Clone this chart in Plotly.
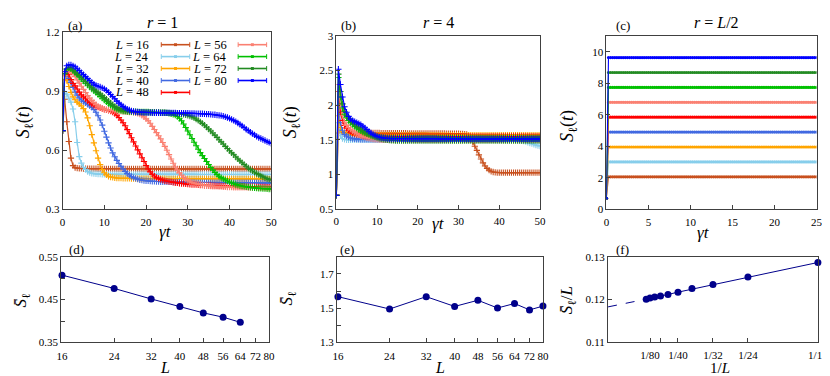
import plotly.graph_objects as go
import math

W, H = 830, 376
def px(x): return x / W
def py(y): return 1 - y / H

SERIF = "Liberation Serif"

L_VALUES = [16, 24, 32, 40, 48, 56, 64, 72, 80]
COLORS = {16: "#c8501e", 24: "#87ceeb", 32: "#ffa500", 40: "#4169e1", 48: "#ff0000",
          56: "#fa8072", 64: "#00c000", 72: "#228b22", 80: "#0000ff"}
NAVY = "#00008b"

# ---------------- time grids ----------------
T_AB = [0.0, 0.5, 1.0, 1.5, 2.0, 2.5, 3.0, 3.5, 4.0, 4.5,
        5.0, 5.5, 6.0, 6.5, 7.0, 7.5, 8.0, 8.5, 9.0, 9.5,
        10.0, 10.5, 11.0, 11.5, 12.0, 12.5, 13.0, 13.5, 14.0, 14.5,
        15.0, 15.5, 16.0, 16.5, 17.0, 17.5, 18.0, 18.5, 19.0, 19.5,
        20.0, 20.5, 21.0, 21.5, 22.0, 22.5, 23.0, 23.5, 24.0, 24.5,
        25.0, 25.5, 26.0, 26.5, 27.0, 27.5, 28.0, 28.5, 29.0, 29.5,
        30.0, 30.5, 31.0, 31.5, 32.0, 32.5, 33.0, 33.5, 34.0, 34.5,
        35.0, 35.5, 36.0, 36.5, 37.0, 37.5, 38.0, 38.5, 39.0, 39.5,
        40.0, 40.5, 41.0, 41.5, 42.0, 42.5, 43.0, 43.5, 44.0, 44.5,
        45.0, 45.5, 46.0, 46.5, 47.0, 47.5, 48.0, 48.5, 49.0, 49.5,
        50.0]

T_C = [0.0, 0.25, 0.5, 0.75, 1.0, 1.25, 1.5, 1.75, 2.0, 2.25,
       2.5, 2.75, 3.0, 3.25, 3.5, 3.75, 4.0, 4.25, 4.5, 4.75,
       5.0, 5.25, 5.5, 5.75, 6.0, 6.25, 6.5, 6.75, 7.0, 7.25,
       7.5, 7.75, 8.0, 8.25, 8.5, 8.75, 9.0, 9.25, 9.5, 9.75,
       10.0, 10.25, 10.5, 10.75, 11.0, 11.25, 11.5, 11.75, 12.0, 12.25,
       12.5, 12.75, 13.0, 13.25, 13.5, 13.75, 14.0, 14.25, 14.5, 14.75,
       15.0, 15.25, 15.5, 15.75, 16.0, 16.25, 16.5, 16.75, 17.0, 17.25,
       17.5, 17.75, 18.0, 18.25, 18.5, 18.75, 19.0, 19.25, 19.5, 19.75,
       20.0, 20.25, 20.5, 20.75, 21.0, 21.25, 21.5, 21.75, 22.0, 22.25,
       22.5, 22.75, 23.0, 23.25, 23.5, 23.75, 24.0, 24.25, 24.5, 24.75,
       25.0]

# ---------------- panel (a): r = 1 ----------------
A16 = [0.700, 0.860, 0.745, 0.645, 0.560, 0.522, 0.512, 0.509, 0.508, 0.508,
       0.507, 0.507, 0.507, 0.507, 0.507, 0.507, 0.507, 0.506, 0.506, 0.506,
       0.506, 0.506, 0.506, 0.506, 0.506, 0.506, 0.506, 0.506, 0.506, 0.506,
       0.506, 0.506, 0.506, 0.506, 0.506, 0.506, 0.506, 0.506, 0.506, 0.506,
       0.506, 0.506, 0.506, 0.506, 0.506, 0.505, 0.505, 0.505, 0.505, 0.505,
       0.505, 0.505, 0.505, 0.505, 0.505, 0.505, 0.505, 0.505, 0.505, 0.505,
       0.505, 0.505, 0.505, 0.505, 0.505, 0.505, 0.505, 0.505, 0.505, 0.505,
       0.505, 0.505, 0.505, 0.505, 0.505, 0.505, 0.505, 0.505, 0.505, 0.505,
       0.505, 0.505, 0.505, 0.505, 0.505, 0.505, 0.505, 0.505, 0.505, 0.505,
       0.505, 0.505, 0.505, 0.505, 0.505, 0.505, 0.505, 0.505, 0.505, 0.505,
       0.505]
A24 = [0.700, 0.890, 0.885, 0.865, 0.845, 0.810, 0.745, 0.640, 0.568, 0.535,
       0.514, 0.502, 0.492, 0.486, 0.483, 0.481, 0.480, 0.479, 0.479, 0.478,
       0.478, 0.478, 0.478, 0.478, 0.478, 0.478, 0.478, 0.478, 0.478, 0.478,
       0.478, 0.478, 0.478, 0.478, 0.478, 0.478, 0.478, 0.478, 0.478, 0.478,
       0.478, 0.478, 0.478, 0.478, 0.478, 0.478, 0.478, 0.478, 0.478, 0.478,
       0.478, 0.478, 0.478, 0.478, 0.478, 0.478, 0.478, 0.478, 0.478, 0.478,
       0.478, 0.478, 0.478, 0.478, 0.478, 0.477, 0.477, 0.477, 0.477, 0.477,
       0.477, 0.477, 0.477, 0.477, 0.477, 0.477, 0.477, 0.477, 0.477, 0.477,
       0.477, 0.477, 0.477, 0.477, 0.477, 0.477, 0.477, 0.477, 0.477, 0.477,
       0.477, 0.477, 0.477, 0.477, 0.477, 0.477, 0.477, 0.477, 0.477, 0.477,
       0.477]
A32 = [0.700, 0.960, 0.955, 0.925, 0.895, 0.872, 0.857, 0.845, 0.836, 0.826,
       0.812, 0.795, 0.765, 0.725, 0.680, 0.638, 0.598, 0.560, 0.527, 0.502,
       0.486, 0.475, 0.468, 0.464, 0.462, 0.460, 0.459, 0.458, 0.458, 0.457,
       0.457, 0.457, 0.457, 0.456, 0.456, 0.456, 0.456, 0.456, 0.456, 0.456,
       0.456, 0.456, 0.456, 0.456, 0.456, 0.456, 0.456, 0.456, 0.456, 0.456,
       0.455, 0.455, 0.455, 0.455, 0.455, 0.455, 0.455, 0.455, 0.455, 0.455,
       0.455, 0.455, 0.455, 0.455, 0.455, 0.455, 0.455, 0.455, 0.455, 0.455,
       0.455, 0.455, 0.455, 0.455, 0.455, 0.455, 0.455, 0.455, 0.455, 0.455,
       0.455, 0.455, 0.455, 0.455, 0.455, 0.454, 0.454, 0.454, 0.454, 0.454,
       0.454, 0.454, 0.454, 0.454, 0.454, 0.454, 0.454, 0.454, 0.454, 0.454,
       0.454]
A40 = [0.700, 0.990, 0.985, 0.965, 0.945, 0.920, 0.897, 0.880, 0.866, 0.856,
       0.848, 0.841, 0.834, 0.826, 0.818, 0.808, 0.794, 0.776, 0.754, 0.728,
       0.697, 0.667, 0.638, 0.612, 0.587, 0.567, 0.549, 0.533, 0.519, 0.505,
       0.492, 0.482, 0.474, 0.467, 0.461, 0.457, 0.453, 0.450, 0.448, 0.446,
       0.445, 0.444, 0.443, 0.442, 0.442, 0.441, 0.441, 0.440, 0.440, 0.440,
       0.439, 0.439, 0.439, 0.438, 0.438, 0.438, 0.438, 0.438, 0.437, 0.437,
       0.437, 0.437, 0.437, 0.437, 0.436, 0.436, 0.436, 0.436, 0.436, 0.436,
       0.436, 0.436, 0.436, 0.435, 0.435, 0.435, 0.435, 0.435, 0.435, 0.435,
       0.435, 0.435, 0.435, 0.435, 0.435, 0.435, 0.435, 0.435, 0.435, 0.435,
       0.435, 0.435, 0.435, 0.435, 0.434, 0.434, 0.434, 0.434, 0.434, 0.434,
       0.434]
A48 = [0.700, 0.980, 1.000, 0.985, 0.960, 0.940, 0.928, 0.912, 0.896, 0.882,
       0.872, 0.862, 0.852, 0.843, 0.835, 0.829, 0.824, 0.820, 0.816, 0.812,
       0.809, 0.806, 0.803, 0.799, 0.794, 0.787, 0.778, 0.767, 0.754, 0.740,
       0.725, 0.705, 0.685, 0.664, 0.643, 0.622, 0.602, 0.582, 0.562, 0.543,
       0.523, 0.505, 0.490, 0.478, 0.469, 0.462, 0.457, 0.452, 0.448, 0.445,
       0.443, 0.441, 0.439, 0.437, 0.435, 0.434, 0.432, 0.431, 0.430, 0.429,
       0.428, 0.427, 0.426, 0.426, 0.425, 0.424, 0.423, 0.423, 0.422, 0.422,
       0.421, 0.421, 0.420, 0.420, 0.419, 0.419, 0.419, 0.418, 0.418, 0.418,
       0.418, 0.417, 0.417, 0.417, 0.416, 0.416, 0.416, 0.416, 0.415, 0.415,
       0.415, 0.415, 0.415, 0.414, 0.414, 0.414, 0.414, 0.414, 0.413, 0.413,
       0.413]
A56 = [0.700, 0.980, 1.005, 1.010, 1.000, 0.990, 0.975, 0.958, 0.942, 0.926,
       0.910, 0.894, 0.879, 0.866, 0.854, 0.843, 0.833, 0.825, 0.819, 0.814,
       0.810, 0.807, 0.805, 0.803, 0.802, 0.801, 0.800, 0.799, 0.798, 0.797,
       0.797, 0.796, 0.795, 0.794, 0.793, 0.791, 0.788, 0.784, 0.778, 0.770,
       0.760, 0.750, 0.738, 0.722, 0.706, 0.690, 0.674, 0.658, 0.640, 0.620,
       0.600, 0.578, 0.556, 0.534, 0.515, 0.499, 0.485, 0.473, 0.462, 0.453,
       0.446, 0.440, 0.436, 0.433, 0.430, 0.428, 0.426, 0.424, 0.422, 0.420,
       0.419, 0.418, 0.417, 0.416, 0.416, 0.415, 0.415, 0.414, 0.414, 0.413,
       0.413, 0.413, 0.412, 0.412, 0.412, 0.411, 0.411, 0.411, 0.411, 0.410,
       0.410, 0.410, 0.410, 0.409, 0.409, 0.409, 0.409, 0.408, 0.408, 0.408,
       0.408]
A64 = [0.700, 0.990, 1.012, 1.018, 1.015, 1.005, 0.995, 0.985, 0.974, 0.963,
       0.952, 0.942, 0.932, 0.922, 0.912, 0.903, 0.893, 0.884, 0.874, 0.865,
       0.856, 0.847, 0.838, 0.830, 0.822, 0.815, 0.809, 0.805, 0.802, 0.800,
       0.799, 0.798, 0.798, 0.797, 0.797, 0.797, 0.796, 0.796, 0.796, 0.795,
       0.795, 0.795, 0.794, 0.794, 0.794, 0.793, 0.793, 0.792, 0.792, 0.791,
       0.790, 0.788, 0.786, 0.783, 0.779, 0.772, 0.763, 0.750, 0.734, 0.716,
       0.698, 0.679, 0.660, 0.641, 0.623, 0.605, 0.588, 0.573, 0.558, 0.543,
       0.528, 0.513, 0.499, 0.487, 0.477, 0.468, 0.461, 0.455, 0.449, 0.444,
       0.439, 0.434, 0.430, 0.426, 0.423, 0.420, 0.418, 0.416, 0.414, 0.413,
       0.411, 0.410, 0.409, 0.408, 0.407, 0.406, 0.405, 0.405, 0.404, 0.403,
       0.403]
A72 = [0.700, 0.990, 1.015, 1.020, 1.018, 1.010, 1.000, 0.990, 0.981, 0.971,
       0.960, 0.950, 0.940, 0.929, 0.918, 0.910, 0.902, 0.895, 0.887, 0.878,
       0.869, 0.860, 0.850, 0.841, 0.832, 0.824, 0.817, 0.812, 0.807, 0.803,
       0.800, 0.798, 0.797, 0.796, 0.795, 0.795, 0.794, 0.794, 0.794, 0.793,
       0.793, 0.793, 0.793, 0.792, 0.792, 0.792, 0.792, 0.791, 0.791, 0.791,
       0.790, 0.790, 0.789, 0.789, 0.788, 0.787, 0.786, 0.785, 0.783, 0.781,
       0.778, 0.774, 0.770, 0.765, 0.759, 0.752, 0.745, 0.737, 0.728, 0.718,
       0.708, 0.698, 0.688, 0.677, 0.666, 0.654, 0.643, 0.632, 0.620, 0.609,
       0.598, 0.587, 0.577, 0.566, 0.556, 0.546, 0.537, 0.528, 0.519, 0.510,
       0.502, 0.495, 0.488, 0.482, 0.476, 0.470, 0.465, 0.460, 0.456, 0.452,
       0.449]
A80 = [0.700, 1.000, 1.030, 1.035, 1.035, 1.030, 1.025, 1.015, 1.006, 0.995,
       0.985, 0.975, 0.965, 0.955, 0.945, 0.937, 0.930, 0.926, 0.922, 0.918,
       0.913, 0.905, 0.895, 0.884, 0.873, 0.862, 0.850, 0.840, 0.831, 0.823,
       0.816, 0.810, 0.805, 0.801, 0.798, 0.796, 0.795, 0.794, 0.793, 0.793,
       0.792, 0.792, 0.792, 0.791, 0.791, 0.791, 0.791, 0.790, 0.790, 0.790,
       0.790, 0.790, 0.790, 0.790, 0.790, 0.789, 0.789, 0.789, 0.789, 0.789,
       0.789, 0.788, 0.788, 0.788, 0.787, 0.787, 0.786, 0.786, 0.785, 0.784,
       0.784, 0.783, 0.782, 0.781, 0.779, 0.778, 0.776, 0.774, 0.770, 0.767,
       0.762, 0.757, 0.752, 0.746, 0.739, 0.732, 0.724, 0.716, 0.707, 0.700,
       0.692, 0.685, 0.678, 0.671, 0.665, 0.660, 0.655, 0.650, 0.644, 0.640,
       0.635]

# ---------------- panel (b): r = 4 ----------------
B16 = [0.700, 1.600, 1.620, 1.610, 1.605, 1.602, 1.600, 1.600, 1.600, 1.600,
       1.600, 1.600, 1.600, 1.600, 1.600, 1.600, 1.600, 1.600, 1.600, 1.600,
       1.600, 1.600, 1.599, 1.599, 1.599, 1.599, 1.598, 1.598, 1.598, 1.598,
       1.597, 1.597, 1.597, 1.597, 1.597, 1.596, 1.596, 1.596, 1.596, 1.596,
       1.595, 1.595, 1.595, 1.595, 1.595, 1.594, 1.594, 1.594, 1.594, 1.594,
       1.593, 1.593, 1.593, 1.593, 1.592, 1.592, 1.592, 1.591, 1.591, 1.591,
       1.590, 1.589, 1.587, 1.584, 1.580, 1.560, 1.520, 1.470, 1.410, 1.350,
       1.285, 1.225, 1.170, 1.125, 1.090, 1.065, 1.048, 1.038, 1.033, 1.030,
       1.029, 1.029, 1.029, 1.029, 1.029, 1.029, 1.029, 1.029, 1.029, 1.029,
       1.029, 1.029, 1.029, 1.028, 1.028, 1.028, 1.028, 1.028, 1.028, 1.028,
       1.028]
B24 = [0.700, 1.750, 1.560, 1.520, 1.507, 1.502, 1.500, 1.500, 1.500, 1.500,
       1.500, 1.500, 1.500, 1.500, 1.500, 1.500, 1.500, 1.500, 1.500, 1.500,
       1.500, 1.500, 1.500, 1.500, 1.500, 1.500, 1.500, 1.500, 1.500, 1.500,
       1.500, 1.500, 1.500, 1.500, 1.500, 1.500, 1.500, 1.500, 1.500, 1.500,
       1.500, 1.500, 1.500, 1.500, 1.500, 1.500, 1.500, 1.500, 1.500, 1.500,
       1.500, 1.500, 1.500, 1.500, 1.500, 1.500, 1.500, 1.500, 1.500, 1.500,
       1.500, 1.500, 1.500, 1.500, 1.500, 1.500, 1.500, 1.500, 1.500, 1.500,
       1.500, 1.500, 1.500, 1.500, 1.500, 1.500, 1.500, 1.500, 1.500, 1.500,
       1.500, 1.500, 1.500, 1.500, 1.500, 1.500, 1.500, 1.500, 1.500, 1.497,
       1.493, 1.488, 1.482, 1.475, 1.466, 1.456, 1.446, 1.435, 1.425, 1.418,
       1.412]
B32 = [0.700, 1.850, 1.680, 1.620, 1.595, 1.583, 1.577, 1.573, 1.571, 1.570,
       1.570, 1.570, 1.570, 1.570, 1.570, 1.570, 1.570, 1.570, 1.570, 1.570,
       1.570, 1.570, 1.570, 1.570, 1.570, 1.570, 1.570, 1.570, 1.570, 1.570,
       1.570, 1.570, 1.570, 1.570, 1.570, 1.570, 1.570, 1.570, 1.570, 1.570,
       1.570, 1.570, 1.570, 1.570, 1.570, 1.570, 1.570, 1.570, 1.570, 1.570,
       1.570, 1.570, 1.570, 1.570, 1.570, 1.570, 1.570, 1.570, 1.570, 1.570,
       1.570, 1.570, 1.570, 1.570, 1.570, 1.570, 1.570, 1.570, 1.570, 1.570,
       1.570, 1.570, 1.570, 1.570, 1.570, 1.570, 1.570, 1.570, 1.570, 1.570,
       1.570, 1.570, 1.570, 1.570, 1.570, 1.570, 1.570, 1.570, 1.570, 1.570,
       1.570, 1.570, 1.570, 1.570, 1.570, 1.570, 1.570, 1.570, 1.570, 1.570,
       1.570]
B40 = [0.700, 2.000, 1.750, 1.640, 1.580, 1.555, 1.540, 1.528, 1.520, 1.515,
       1.512, 1.511, 1.510, 1.510, 1.510, 1.510, 1.510, 1.510, 1.510, 1.510,
       1.510, 1.510, 1.510, 1.510, 1.510, 1.510, 1.510, 1.510, 1.510, 1.510,
       1.510, 1.510, 1.510, 1.510, 1.510, 1.510, 1.510, 1.510, 1.510, 1.510,
       1.510, 1.510, 1.510, 1.510, 1.510, 1.510, 1.510, 1.510, 1.510, 1.510,
       1.510, 1.510, 1.510, 1.510, 1.510, 1.510, 1.510, 1.510, 1.510, 1.510,
       1.510, 1.510, 1.510, 1.510, 1.510, 1.510, 1.510, 1.510, 1.510, 1.510,
       1.510, 1.510, 1.510, 1.510, 1.510, 1.510, 1.510, 1.510, 1.510, 1.510,
       1.510, 1.510, 1.510, 1.510, 1.510, 1.510, 1.510, 1.510, 1.510, 1.510,
       1.510, 1.510, 1.510, 1.510, 1.510, 1.510, 1.510, 1.510, 1.510, 1.510,
       1.510]
B48 = [0.700, 2.200, 1.900, 1.780, 1.710, 1.670, 1.640, 1.620, 1.600, 1.590,
       1.580, 1.572, 1.565, 1.560, 1.556, 1.553, 1.551, 1.550, 1.550, 1.550,
       1.550, 1.550, 1.550, 1.550, 1.550, 1.550, 1.550, 1.550, 1.550, 1.550,
       1.550, 1.550, 1.550, 1.550, 1.550, 1.550, 1.550, 1.550, 1.550, 1.550,
       1.550, 1.550, 1.550, 1.550, 1.550, 1.550, 1.550, 1.550, 1.550, 1.550,
       1.550, 1.550, 1.550, 1.550, 1.550, 1.550, 1.550, 1.550, 1.550, 1.550,
       1.550, 1.550, 1.550, 1.550, 1.550, 1.550, 1.550, 1.550, 1.550, 1.550,
       1.550, 1.550, 1.550, 1.550, 1.550, 1.550, 1.550, 1.550, 1.550, 1.550,
       1.550, 1.550, 1.550, 1.550, 1.550, 1.550, 1.550, 1.550, 1.550, 1.550,
       1.550, 1.550, 1.550, 1.550, 1.550, 1.550, 1.550, 1.550, 1.550, 1.550,
       1.550]
B56 = [0.700, 2.300, 2.000, 1.850, 1.760, 1.710, 1.680, 1.655, 1.630, 1.610,
       1.590, 1.575, 1.560, 1.550, 1.540, 1.532, 1.525, 1.519, 1.514, 1.510,
       1.507, 1.505, 1.503, 1.502, 1.502, 1.501, 1.501, 1.500, 1.500, 1.500,
       1.500, 1.500, 1.500, 1.500, 1.500, 1.500, 1.500, 1.500, 1.500, 1.500,
       1.500, 1.500, 1.500, 1.500, 1.500, 1.500, 1.500, 1.500, 1.500, 1.500,
       1.500, 1.500, 1.500, 1.500, 1.500, 1.500, 1.500, 1.500, 1.500, 1.500,
       1.500, 1.500, 1.500, 1.500, 1.500, 1.500, 1.500, 1.500, 1.500, 1.500,
       1.500, 1.500, 1.500, 1.500, 1.500, 1.500, 1.500, 1.500, 1.500, 1.500,
       1.500, 1.500, 1.500, 1.500, 1.500, 1.500, 1.500, 1.500, 1.500, 1.500,
       1.500, 1.500, 1.500, 1.500, 1.500, 1.500, 1.500, 1.500, 1.500, 1.500,
       1.500]
B64 = [0.700, 2.400, 2.120, 1.960, 1.870, 1.820, 1.780, 1.750, 1.720, 1.695,
       1.670, 1.650, 1.630, 1.615, 1.600, 1.587, 1.576, 1.566, 1.557, 1.550,
       1.545, 1.540, 1.537, 1.534, 1.532, 1.531, 1.530, 1.530, 1.530, 1.530,
       1.530, 1.530, 1.530, 1.530, 1.530, 1.530, 1.530, 1.530, 1.530, 1.530,
       1.530, 1.530, 1.530, 1.530, 1.530, 1.530, 1.530, 1.530, 1.530, 1.530,
       1.530, 1.530, 1.530, 1.530, 1.530, 1.530, 1.530, 1.530, 1.530, 1.530,
       1.530, 1.530, 1.530, 1.530, 1.530, 1.530, 1.530, 1.530, 1.530, 1.530,
       1.530, 1.530, 1.530, 1.530, 1.530, 1.530, 1.530, 1.530, 1.530, 1.530,
       1.530, 1.530, 1.530, 1.530, 1.530, 1.530, 1.530, 1.530, 1.530, 1.530,
       1.530, 1.530, 1.530, 1.530, 1.530, 1.530, 1.530, 1.530, 1.530, 1.530,
       1.530]
B72 = [0.700, 2.450, 2.200, 2.020, 1.910, 1.850, 1.810, 1.780, 1.750, 1.725,
       1.700, 1.680, 1.660, 1.640, 1.620, 1.600, 1.583, 1.568, 1.555, 1.543,
       1.533, 1.524, 1.516, 1.510, 1.505, 1.500, 1.497, 1.495, 1.493, 1.492,
       1.491, 1.491, 1.491, 1.491, 1.491, 1.491, 1.491, 1.491, 1.491, 1.491,
       1.491, 1.491, 1.491, 1.491, 1.491, 1.491, 1.491, 1.491, 1.491, 1.491,
       1.490, 1.490, 1.490, 1.490, 1.490, 1.490, 1.490, 1.490, 1.490, 1.490,
       1.490, 1.490, 1.490, 1.490, 1.490, 1.490, 1.490, 1.490, 1.490, 1.490,
       1.490, 1.490, 1.490, 1.490, 1.490, 1.490, 1.490, 1.490, 1.490, 1.490,
       1.490, 1.490, 1.490, 1.490, 1.490, 1.490, 1.490, 1.490, 1.490, 1.490,
       1.490, 1.490, 1.490, 1.490, 1.490, 1.490, 1.490, 1.490, 1.490, 1.490,
       1.490]
B80 = [0.700, 2.520, 2.300, 2.120, 1.980, 1.900, 1.840, 1.800, 1.780, 1.765,
       1.750, 1.735, 1.720, 1.700, 1.675, 1.650, 1.625, 1.600, 1.580, 1.565,
       1.552, 1.542, 1.535, 1.529, 1.525, 1.522, 1.520, 1.519, 1.518, 1.518,
       1.517, 1.517, 1.517, 1.517, 1.517, 1.517, 1.517, 1.517, 1.517, 1.517,
       1.517, 1.517, 1.517, 1.517, 1.517, 1.517, 1.517, 1.517, 1.517, 1.517,
       1.516, 1.516, 1.516, 1.516, 1.516, 1.516, 1.516, 1.516, 1.516, 1.516,
       1.516, 1.516, 1.516, 1.516, 1.516, 1.516, 1.516, 1.516, 1.516, 1.516,
       1.515, 1.515, 1.515, 1.515, 1.515, 1.515, 1.515, 1.515, 1.515, 1.515,
       1.515, 1.515, 1.515, 1.515, 1.515, 1.515, 1.515, 1.515, 1.515, 1.515,
       1.515, 1.515, 1.515, 1.515, 1.515, 1.515, 1.515, 1.515, 1.515, 1.515,
       1.515]

# ---------------- panel (c): r = L/2 ----------------
C_START = 0.70
C_LEVEL = {16: 2.058, 24: 3.006, 32: 3.953, 40: 4.902, 48: 5.843,
           56: 6.787, 64: 7.733, 72: 8.683, 80: 9.630}

# ---------------- bottom panels ----------------
L_D = [16, 24, 32, 40, 48, 56, 64]
SBAR_D = [0.507, 0.476, 0.4515, 0.434, 0.419, 0.409, 0.397]

L_E = [16, 24, 32, 40, 48, 56, 64, 72, 80]
SBAR_E = [1.567, 1.495, 1.567, 1.510, 1.546, 1.501, 1.527, 1.490, 1.512]

L_F = [16, 24, 32, 40, 48, 56, 64, 72, 80, 88]
SBAR_OVER_L_F = [0.12865, 0.12526, 0.12353, 0.12256, 0.12173, 0.12120,
                 0.12083, 0.12060, 0.12038, 0.12008]
FIT_INV_L = [0.0, 1 / 88]
FIT_Y = [0.1183, 0.1201]

F_TICK_VALS = [1 / 80, 1 / 48, 1 / 32, 1 / 24, 1 / 16]
F_TICK_TEXT = ["1/80", "1/40", "1/32", "1/24", "1/16"]
F_MINOR_VALS = [1 / 64]

A = {16: A16, 24: A24, 32: A32, 40: A40, 48: A48, 56: A56, 64: A64, 72: A72, 80: A80}
B = {16: B16, 24: B24, 32: B32, 40: B40, 48: B48, 56: B56, 64: B64, 72: B72, 80: B80}
for d in (A, B):
    for k, v in d.items():
        assert len(v) == len(T_AB), (k, len(v))

fig = go.Figure()

for L in L_VALUES:
    c = COLORS[L]
    fig.add_trace(go.Scatter(
        x=T_AB, y=A[L], xaxis="x", yaxis="y", mode="lines+markers",
        line=dict(color=c, width=1.2),
        marker=dict(symbol="cross-thin", size=4.5, line=dict(width=1.1, color=c)),
        showlegend=False, name=f"L = {L}"))
for L in L_VALUES:
    c = COLORS[L]
    fig.add_trace(go.Scatter(
        x=T_AB, y=B[L], xaxis="x2", yaxis="y2", mode="lines+markers",
        line=dict(color=c, width=1.2),
        marker=dict(symbol="cross-thin", size=4.5, line=dict(width=1.1, color=c)),
        showlegend=False, name=f"L = {L}"))
for L in L_VALUES:
    c = COLORS[L]
    yc = [C_START] + [C_LEVEL[L]] * (len(T_C) - 1)
    fig.add_trace(go.Scatter(
        x=T_C, y=yc, xaxis="x3", yaxis="y3", mode="lines+markers",
        line=dict(color=c, width=1.1),
        marker=dict(symbol="circle", size=3.2, color=c),
        showlegend=False, name=f"L = {L}"))

fig.add_trace(go.Scatter(x=L_D, y=SBAR_D, xaxis="x4", yaxis="y4", mode="lines+markers",
                         line=dict(color=NAVY, width=1), marker=dict(size=7, color=NAVY),
                         cliponaxis=False, showlegend=False))
fig.add_trace(go.Scatter(x=L_E, y=SBAR_E, xaxis="x5", yaxis="y5", mode="lines+markers",
                         line=dict(color=NAVY, width=1), marker=dict(size=7, color=NAVY),
                         cliponaxis=False, showlegend=False))
fig.add_trace(go.Scatter(x=FIT_INV_L, y=FIT_Y, xaxis="x6", yaxis="y6", mode="lines",
                         line=dict(color=NAVY, width=1, dash="dash"),
                         cliponaxis=False, showlegend=False))
fig.add_trace(go.Scatter(x=[1 / L for L in L_F], y=SBAR_OVER_L_F, xaxis="x6", yaxis="y6",
                         mode="lines+markers",
                         line=dict(color=NAVY, width=1), marker=dict(size=7, color=NAVY),
                         cliponaxis=False, showlegend=False))

AX = dict(showline=True, mirror=True, linecolor="#404040", linewidth=1,
          ticks="inside", ticklen=4, tickcolor="#404040", tickwidth=1,
          showgrid=False, zeroline=False, tickangle=0, ticklabeloverflow="allow",
          tickfont=dict(family=SERIF, size=11, color="black"))
MINOR = dict(ticks="inside", ticklen=4, tickcolor="#404040", showgrid=False)

LOG_LO = math.log10(16) - 0.003
LOG_HI = math.log10(80) + 0.001

TOP_Y0 = py(201.7)
fig.update_layout(
    width=W, height=H, margin=dict(l=0, r=0, t=0, b=0),
    paper_bgcolor="white", plot_bgcolor="white",
    font=dict(family=SERIF, color="black"),
    xaxis=dict(AX, domain=[px(50.5), px(263)], range=[0, 50], tickvals=[0, 10, 20, 30, 40, 50],
               anchor="y", ticklabelstandoff=3),
    yaxis=dict(AX, domain=[TOP_Y0, py(19)], range=[0.3, 1.2], tickvals=[0.3, 0.6, 0.9, 1.2],
               ticktext=["0.3", "0.6", "0.9", "1.2"], anchor="x"),
    xaxis2=dict(AX, domain=[px(329.3), px(536.7)], range=[0, 50], tickvals=[0, 10, 20, 30, 40, 50],
                anchor="y2", ticklabelstandoff=2),
    yaxis2=dict(AX, domain=[TOP_Y0, py(22.7)], range=[0.5, 3],
                tickvals=[0.5, 1, 1.5, 2, 2.5, 3], ticktext=["0.5", "1", "1.5", "2", "2.5", "3"],
                anchor="x2"),
    xaxis3=dict(AX, domain=[px(604.3), px(818.3)], range=[0, 25], tickvals=[0, 5, 10, 15, 20, 25],
                anchor="y3", ticklabelstandoff=3),
    yaxis3=dict(AX, domain=[TOP_Y0, py(22.7)], range=[0, 11], tickvals=[0, 2, 4, 6, 8, 10],
                anchor="x3"),
    xaxis4=dict(AX, type="log", domain=[px(49), px(261)],
                range=[LOG_LO, LOG_HI], tickvals=L_VALUES,
                ticktext=[str(v) for v in L_VALUES], anchor="y4", ticklabelstandoff=3),
    yaxis4=dict(AX, domain=[py(339.3), py(250.7)], range=[0.35, 0.55],
                tickvals=[0.35, 0.45, 0.55], ticktext=["0.35", "0.45", "0.55"],
                minor=dict(MINOR, tickvals=[0.40, 0.50]), anchor="x4"),
    xaxis5=dict(AX, type="log", domain=[px(330), px(540)],
                range=[LOG_LO, LOG_HI], tickvals=L_VALUES,
                ticktext=[str(v) for v in L_VALUES], anchor="y5", ticklabelstandoff=3),
    yaxis5=dict(AX, domain=[py(339.3), py(250.7)], range=[1.3, 1.8],
                tickvals=[1.3, 1.5, 1.7], ticktext=["1.3", "1.5", "1.7"],
                minor=dict(MINOR, tickvals=[1.4, 1.6]), anchor="x5"),
    xaxis6=dict(AX, domain=[px(606), px(819.7)], range=[0, 0.0625],
                tickvals=F_TICK_VALS, ticktext=F_TICK_TEXT,
                minor=dict(MINOR, tickvals=F_MINOR_VALS), anchor="y6", ticklabelstandoff=2),
    yaxis6=dict(AX, domain=[py(339.3), py(250.7)], range=[0.11, 0.13],
                tickvals=[0.11, 0.12, 0.13], ticktext=["0.11", "0.12", "0.13"], anchor="x6"),
)

ann = []
def add_text(x, y, text, size, angle=0, xanchor="center"):
    ann.append(dict(x=px(x), y=py(y), xref="paper", yref="paper", text=text, showarrow=False,
                    textangle=angle, xanchor=xanchor, yanchor="middle",
                    font=dict(family=SERIF, size=size, color="black")))

S_T = "<i>S</i><sub>ℓ</sub>(<i>t</i>)"
SBAR = "<i>S\u0304</i><sub>ℓ</sub>"
add_text(63, 11.5, "(a)", 13)
add_text(341.5, 11.5, "(b)", 13)
add_text(621.5, 11.5, "(c)", 13)
add_text(152, 9, "<i>r</i> = 1", 16)
add_text(433, 9, "<i>r</i> = 4", 16)
add_text(716, 9, "<i>r</i> = <i>L</i>/2", 16)
add_text(12, 112, S_T, 18, angle=-90)
add_text(284, 112, S_T, 18, angle=-90)
add_text(566, 116, S_T, 18, angle=-90)
add_text(155, 225, "<i>γt</i>", 17)
add_text(433, 216, "<i>γt</i>", 17)
add_text(703, 226, "<i>γt</i>", 17)
add_text(65, 243, "(d)", 13)
add_text(340, 243, "(e)", 13)
add_text(621, 243, "(f)", 13)
add_text(9, 295, SBAR, 17, angle=-90)
add_text(280, 293, SBAR, 17, angle=-90)
add_text(565, 296, SBAR + "/<i>L</i>", 17, angle=-90)
add_text(155, 365, "<i>L</i>", 16)
add_text(435, 365, "<i>L</i>", 16)
add_text(720, 366, "1/<i>L</i>", 15)

# hand-drawn legend (text first, sample after, as in the reference)
shapes = []
LEG_ROWS = [31.7, 44.0, 56.3, 68.7, 81.0]
LEG_COLS = [(140.7, 151.0, 180.0), (220.0, 229.3, 258.3)]
for i, L in enumerate(L_VALUES):
    col = 0 if i < 5 else 1
    row = i if i < 5 else i - 5
    tx, lx0, lx1 = LEG_COLS[col]
    y = LEG_ROWS[row]
    c = COLORS[L]
    add_text(tx, y, f"<i>L</i> = {L}", 12.5, xanchor="right")
    shapes.append(dict(type="line", xref="paper", yref="paper", x0=px(lx0), x1=px(lx1),
                       y0=py(y), y1=py(y), line=dict(color=c, width=1.6)))
    for xx in (lx0, lx1):
        shapes.append(dict(type="line", xref="paper", yref="paper", x0=px(xx), x1=px(xx),
                           y0=py(y - 2.5), y1=py(y + 2.5), line=dict(color=c, width=1)))
    xm = (lx0 + lx1) / 2
    shapes.append(dict(type="rect", xref="paper", yref="paper", x0=px(xm - 1.5), x1=px(xm + 1.5),
                       y0=py(y + 1.5), y1=py(y - 1.5), fillcolor=c, line=dict(width=0)))

fig.update_layout(annotations=ann, shapes=shapes)
fig.write_html("out.html")
